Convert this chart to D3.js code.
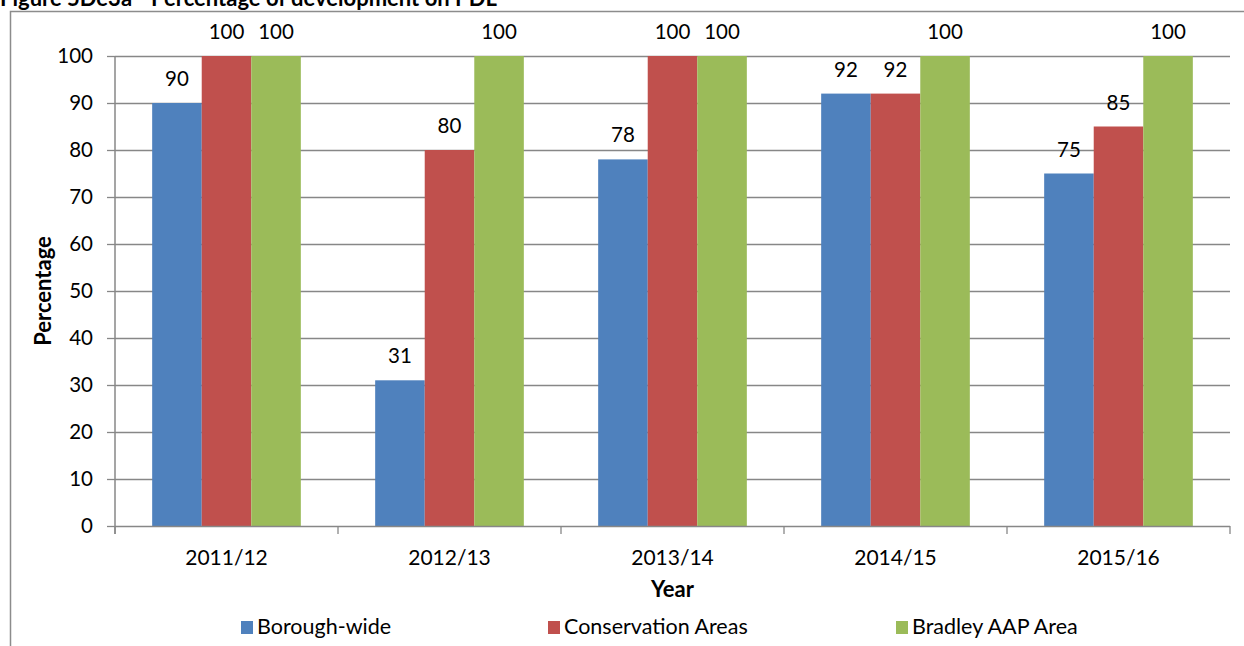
<!DOCTYPE html>
<html>
<head>
<meta charset="utf-8">
<script src="https://cdn.jsdelivr.net/npm/d3@7"></script>
<style>
  html, body { margin: 0; padding: 0; background: #fff; }
  svg { display: block; font-family: Lato, "Open Sans", sans-serif; }
</style>
</head>
<body>
<svg id="chart" width="1244" height="646"></svg>
<script>
// Percentage of development on previously developed land, by area and year
const years = ["2011/12", "2012/13", "2013/14", "2014/15", "2015/16"];
const seriesNames = ["Borough-wide", "Conservation Areas", "Bradley AAP Area"];
const boroughWide = [90, 31, 78, 92, 75];
const conservationAreas = [100, 80, 100, 92, 85];
const bradleyAAP = [100, 100, 100, 100, 100];
const yTicks = [0, 10, 20, 30, 40, 50, 60, 70, 80, 90, 100];
const colors = ["#4F81BD", "#C0504D", "#9BBB59"];

const seriesValues = [boroughWide, conservationAreas, bradleyAAP];

const svg = d3.select("#chart");
const plot = { left: 115, right: 1230, top: 56, bottom: 526 };
const gridColor = "#878787";

// outer chart frame
svg.append("rect")
  .attr("x", 10.5).attr("y", 11.5)
  .attr("width", 1260).attr("height", 700)
  .attr("fill", "none").attr("stroke", "#8c8c8c").attr("stroke-width", 1.5);

// figure caption (sits partly above the page edge)
svg.append("text")
  .attr("x", 0).attr("y", 6)
  .attr("font-weight", "bold").attr("font-size", 22)
  .attr("fill", "#000")
  .text("Figure 5De3a - Percentage of development on PDL");

const x0 = d3.scaleBand().domain(years).range([plot.left, plot.right]).paddingInner(0).paddingOuter(0);
// 150% gap: bars take 3 of every 4.5 slots
const groupPad = (x0.bandwidth() * 1.5 / 4.5) / 2;
const x1 = d3.scaleBand().domain(d3.range(seriesNames.length))
  .range([groupPad, x0.bandwidth() - groupPad]).padding(0);
const y = d3.scaleLinear().domain([0, 100]).range([plot.bottom, plot.top]);

// horizontal gridlines
svg.append("g").selectAll("line").data(yTicks.filter(d => d > 0)).join("line")
  .attr("x1", plot.left).attr("x2", plot.right)
  .attr("y1", d => Math.round(y(d)) + 0.5).attr("y2", d => Math.round(y(d)) + 0.5)
  .attr("stroke", gridColor).attr("stroke-width", 1.3);

// bars
const groups = svg.append("g").selectAll("g").data(years).join("g")
  .attr("transform", d => `translate(${x0(d)},0)`);

groups.selectAll("rect")
  .data((d, i) => seriesValues.map((s, k) => ({ k, v: s[i] })))
  .join("rect")
  .attr("x", d => x1(d.k))
  .attr("width", x1.bandwidth())
  .attr("y", d => y(d.v))
  .attr("height", d => y(0) - y(d.v))
  .attr("fill", d => colors[d.k]);

// value labels
groups.selectAll("text")
  .data((d, i) => seriesValues.map((s, k) => ({ k, v: s[i] })))
  .join("text")
  .attr("x", d => x1(d.k) + x1.bandwidth() / 2)
  .attr("y", d => y(d.v) - 17)
  .attr("text-anchor", "middle")
  .attr("font-size", 20.5)
  .attr("fill", "#000")
  .text(d => d.v);

// y axis
const yAxis = d3.axisLeft(y).tickValues(yTicks).tickSize(8).tickPadding(14);
const gy = svg.append("g").attr("transform", `translate(${plot.left},0)`).call(yAxis);
gy.select(".domain").attr("stroke", gridColor).attr("stroke-width", 1.5)
  .attr("d", `M0,${plot.top}V${plot.bottom + 8}`);
gy.selectAll(".tick line").attr("stroke", gridColor).attr("stroke-width", 1.3);
gy.selectAll(".tick text").attr("font-size", 20.5).attr("fill", "#000")
  .attr("font-family", "Lato, sans-serif");

// x axis with tick marks on category boundaries
const gx = svg.append("g").attr("transform", `translate(0,${plot.bottom})`);
gx.append("line").attr("x1", plot.left).attr("x2", plot.right)
  .attr("y1", 0.5).attr("y2", 0.5).attr("stroke", gridColor).attr("stroke-width", 1.5);
const bounds = years.map(d => x0(d)).concat([plot.right]);
gx.selectAll("line.tk").data(bounds).join("line").attr("class", "tk")
  .attr("x1", d => d).attr("x2", d => d).attr("y1", 0).attr("y2", 8)
  .attr("stroke", gridColor).attr("stroke-width", 1.3);
gx.selectAll("text").data(years).join("text")
  .attr("x", d => x0(d) + x0.bandwidth() / 2)
  .attr("y", 39)
  .attr("text-anchor", "middle").attr("font-size", 21).attr("fill", "#000")
  .text(d => d);

// axis titles
svg.append("text")
  .attr("x", (plot.left + plot.right) / 2).attr("y", 597)
  .attr("text-anchor", "middle").attr("font-weight", "bold").attr("font-size", 22)
  .text("Year");
svg.append("text")
  .attr("transform", `translate(51,${(plot.top + plot.bottom) / 2}) rotate(-90)`)
  .attr("text-anchor", "middle").attr("font-weight", "bold").attr("font-size", 22)
  .text("Percentage");

// legend
const legendX = [241, 548, 896];
const lg = svg.append("g").selectAll("g").data(seriesNames).join("g")
  .attr("transform", (d, i) => `translate(${legendX[i]},621)`);
lg.append("rect").attr("width", 12).attr("height", 13).attr("fill", (d, i) => colors[i]);
lg.append("text").attr("x", 16).attr("y", 13).attr("font-size", 21.5).attr("fill", "#000")
  .text(d => d);
</script>
</body>
</html>
